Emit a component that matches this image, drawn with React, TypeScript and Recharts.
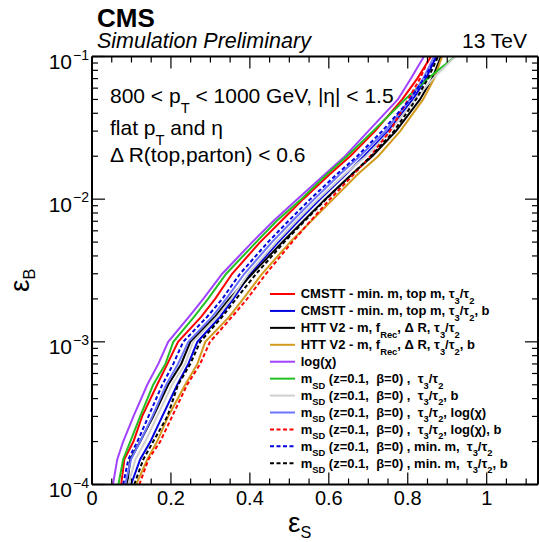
import React from 'react';
import { LineChart, Line, XAxis, YAxis, Legend } from 'recharts';

const FONT = '"Liberation Sans", Arial, Helvetica, sans-serif';

// background efficiency levels (y)
const effB = [1e-4, 1.5e-4, 2e-4, 3e-4, 5e-4, 7e-4, 1e-3, 1.5e-3, 2e-3, 3e-3, 5e-3, 7e-3, 1e-2, 1.5e-2, 2e-2, 3e-2, 5e-2, 7e-2, 1e-1];

// signal efficiency for each curve at the levels above
const cmsttS = [0.074, 0.082, 0.105, 0.127, 0.165, 0.191, 0.218, 0.277, 0.312, 0.355, 0.426, 0.479, 0.535, 0.603, 0.654, 0.717, 0.786, 0.824, 0.859];
const cmsttBS = [0.099, 0.122, 0.148, 0.178, 0.216, 0.244, 0.267, 0.325, 0.358, 0.401, 0.472, 0.522, 0.578, 0.644, 0.689, 0.750, 0.813, 0.846, 0.872];
const httS = [0.089, 0.097, 0.122, 0.155, 0.193, 0.226, 0.249, 0.312, 0.348, 0.406, 0.482, 0.535, 0.591, 0.659, 0.710, 0.770, 0.831, 0.862, 0.884];
const httBS = [0.112, 0.140, 0.165, 0.193, 0.236, 0.267, 0.287, 0.348, 0.383, 0.431, 0.502, 0.555, 0.611, 0.674, 0.725, 0.781, 0.839, 0.867, 0.887];
const logChiS = [0.053, 0.064, 0.079, 0.105, 0.140, 0.168, 0.193, 0.246, 0.282, 0.330, 0.406, 0.459, 0.520, 0.591, 0.641, 0.700, 0.775, 0.808, 0.841];
const msdTauS = [0.067, 0.079, 0.097, 0.122, 0.155, 0.186, 0.206, 0.259, 0.294, 0.340, 0.416, 0.467, 0.530, 0.596, 0.646, 0.712, 0.793, 0.851, 0.920];
const msdTauBS = [0.092, 0.110, 0.135, 0.165, 0.203, 0.236, 0.256, 0.317, 0.353, 0.396, 0.467, 0.517, 0.573, 0.641, 0.694, 0.755, 0.818, 0.864, 0.920];
const msdTauChiS = [0.084, 0.099, 0.122, 0.153, 0.188, 0.218, 0.244, 0.305, 0.340, 0.386, 0.456, 0.507, 0.563, 0.629, 0.679, 0.743, 0.806, 0.839, 0.867];
const msdTauChiBS = [0.120, 0.143, 0.173, 0.203, 0.241, 0.274, 0.299, 0.355, 0.393, 0.441, 0.507, 0.553, 0.603, 0.664, 0.705, 0.755, 0.801, 0.831, 0.856];
const msdMinS = [0.079, 0.092, 0.115, 0.143, 0.178, 0.206, 0.231, 0.292, 0.330, 0.375, 0.446, 0.497, 0.553, 0.621, 0.672, 0.735, 0.806, 0.841, 0.874];
const msdMinBS = [0.107, 0.130, 0.155, 0.191, 0.218, 0.249, 0.274, 0.330, 0.365, 0.416, 0.487, 0.538, 0.593, 0.659, 0.707, 0.765, 0.821, 0.851, 0.877];

const seriesLabels = [
  'CMSTT - min. m, top m, τ_{3}/τ_{2}',
  'CMSTT - min. m, top m, τ_{3}/τ_{2}, b',
  'HTT V2 - m, f_{Rec}, Δ R, τ_{3}/τ_{2}',
  'HTT V2 - m, f_{Rec}, Δ R, τ_{3}/τ_{2}, b',
  'log(χ)',
  'm_{SD} (z=0.1,  β=0) ,  τ_{3}/τ_{2}',
  'm_{SD} (z=0.1,  β=0) ,  τ_{3}/τ_{2}, b',
  'm_{SD} (z=0.1,  β=0) ,  τ_{3}/τ_{2}, log(χ)',
  'm_{SD} (z=0.1,  β=0) ,  τ_{3}/τ_{2}, log(χ), b',
  'm_{SD} (z=0.1,  β=0) , min. m,  τ_{3}/τ_{2}',
  'm_{SD} (z=0.1,  β=0) , min. m,  τ_{3}/τ_{2}, b',
];
const seriesValues = [cmsttS, cmsttBS, httS, httBS, logChiS, msdTauS, msdTauBS, msdTauChiS, msdTauChiBS, msdMinS, msdMinBS];
const seriesColors = ['#ff0000', '#0000e0', '#000000', '#d39b1e', '#a142ff', '#22c022', '#cfcfcf', '#6c74ff', '#ff0000', '#0000e0', '#000000'];
const seriesDashed = [false, false, false, false, false, false, false, false, true, true, true];

const xTicks = [0, 0.05, 0.1, 0.15, 0.2, 0.25, 0.3, 0.35, 0.4, 0.45, 0.5, 0.55, 0.6, 0.65, 0.7, 0.75, 0.8, 0.85, 0.9, 0.95, 1, 1.05, 1.1];
const xMajor = [0, 0.2, 0.4, 0.6, 0.8, 1];
const xMajorLabels = ['0', '0.2', '0.4', '0.6', '0.8', '1'];
const yTicks = [
  1e-4, 2e-4, 3e-4, 4e-4, 5e-4, 6e-4, 7e-4, 8e-4, 9e-4,
  1e-3, 2e-3, 3e-3, 4e-3, 5e-3, 6e-3, 7e-3, 8e-3, 9e-3,
  1e-2, 2e-2, 3e-2, 4e-2, 5e-2, 6e-2, 7e-2, 8e-2, 9e-2,
  1e-1,
];
const yMajor = [1e-4, 1e-3, 1e-2, 1e-1];
const yMajorExp = ['\u22124', '\u22123', '\u22122', '\u22121'];

const X_DOMAIN: [number, number] = [0, 1.13];
const Y_DOMAIN: [number, number] = [1e-4, 1e-1];

function rich(str: string, size: number, shift = 0.42, scale = 0.72) {
  const out: React.ReactNode[] = [];
  const re = /([_^])\{([^}]*)\}/g;
  let last = 0;
  let pending = 0;
  let k = 0;
  let m: RegExpExecArray | null;
  while ((m = re.exec(str)) !== null) {
    if (m.index > last) {
      out.push(<tspan key={k++} dy={pending || undefined}>{str.slice(last, m.index)}</tspan>);
      pending = 0;
    }
    const sh = (m[1] === '_' ? 1 : -1) * size * shift;
    out.push(<tspan key={k++} dy={sh + pending} fontSize={size * scale}>{m[2]}</tspan>);
    pending = -sh;
    last = re.lastIndex;
  }
  if (last < str.length) out.push(<tspan key={k++} dy={pending || undefined}>{str.slice(last)}</tspan>);
  return out;
}

const idxOf = (arr: number[], v: number) => arr.findIndex((t) => Math.abs(t - v) <= Math.abs(t) * 1e-6 + 1e-12);

const BottomTick = (p: any) => {
  const v = p.payload.value;
  const mi = idxOf(xMajor, v);
  const len = mi >= 0 ? 12 : 6;
  return (
    <g>
      <line x1={p.x} x2={p.x} y1={p.y} y2={p.y - len} stroke="#000" strokeWidth={1.2} />
      {mi >= 0 && (
        <text x={p.x} y={p.y + 20.5} textAnchor="middle" fontSize={20} fontFamily={FONT} fill="#000">
          {xMajorLabels[mi]}
        </text>
      )}
    </g>
  );
};

const TopTick = (p: any) => {
  const v = p.payload.value;
  const len = idxOf(xMajor, v) >= 0 ? 12 : 6;
  return <line x1={p.x} x2={p.x} y1={p.y} y2={p.y + len} stroke="#000" strokeWidth={1.2} />;
};

const LeftTick = (p: any) => {
  const v = p.payload.value;
  const mi = idxOf(yMajor, v);
  const len = mi >= 0 ? 13 : 6;
  return (
    <g>
      <line x1={p.x} x2={p.x + len} y1={p.y} y2={p.y} stroke="#000" strokeWidth={1.2} />
      {mi >= 0 && (
        <text x={p.x - 20} y={p.y + 12.5} textAnchor="end" fontSize={21} fontFamily={FONT} fill="#000">10</text>
      )}
      {mi >= 0 && (
        <text x={p.x - 19} y={p.y + 3} fontSize={14} fontFamily={FONT} fill="#000">
          {yMajorExp[mi]}
        </text>
      )}
    </g>
  );
};

const RightTick = (p: any) => {
  const v = p.payload.value;
  const len = idxOf(yMajor, v) >= 0 ? 13 : 6;
  return <line x1={p.x} x2={p.x - len} y1={p.y} y2={p.y} stroke="#000" strokeWidth={1.2} />;
};

const renderLegend = () => (
  <svg width={277} height={195} style={{ display: 'block', overflow: 'visible' }}>
    {seriesLabels.map((lab, i) => {
      const cy = 11 + i * 16.93;
      return (
        <g key={i}>
          <line x1={8} x2={33} y1={cy} y2={cy} stroke={seriesColors[i]} strokeWidth={2}
            strokeDasharray={seriesDashed[i] ? '4 2.5' : undefined} />
          <text x={38.7} y={cy + 4.4} fontSize={13} fontWeight="bold" fontFamily={FONT} fill="#000"
            style={{ whiteSpace: 'pre' }}>
            {rich(lab, 13)}
          </text>
        </g>
      );
    })}
  </svg>
);

export default function App() {
  return (
    <div style={{ position: 'absolute', left: 0, top: 0, width: 539, height: 542, background: '#fff' }}>
      <LineChart width={539} height={542} margin={{ top: 55.5, right: 0, bottom: 56.5, left: 91 }}>
        <XAxis xAxisId="b" dataKey="s" type="number" domain={X_DOMAIN} allowDataOverflow ticks={xTicks}
          interval={0} height={1} tickSize={0} tickMargin={0} tickLine={false} tick={BottomTick}
          axisLine={{ stroke: '#000', strokeWidth: 2 }} />
        <XAxis xAxisId="t" orientation="top" dataKey="s" type="number" domain={X_DOMAIN} allowDataOverflow
          ticks={xTicks} interval={0} height={1} tickSize={0} tickMargin={0} tickLine={false} tick={TopTick}
          axisLine={{ stroke: '#000', strokeWidth: 2 }} />
        <YAxis yAxisId="l" type="number" scale="log" domain={Y_DOMAIN} allowDataOverflow ticks={yTicks}
          interval={0} width={1} tickSize={0} tickMargin={0} tickLine={false} tick={LeftTick}
          axisLine={{ stroke: '#000', strokeWidth: 2 }} />
        <YAxis yAxisId="r" orientation="right" type="number" scale="log" domain={Y_DOMAIN} allowDataOverflow
          ticks={yTicks} interval={0} width={1} tickSize={0} tickMargin={0} tickLine={false} tick={RightTick}
          axisLine={{ stroke: '#000', strokeWidth: 2 }} />
        {seriesValues.map((vals, i) => (
          <Line key={i} xAxisId="b" yAxisId="l" name={seriesLabels[i]}
            data={effB.map((b, j) => ({ s: vals[j], b }))} dataKey="b" type="linear"
            stroke={seriesColors[i]} strokeWidth={2} strokeDasharray={seriesDashed[i] ? '4 2.5' : undefined}
            dot={false} activeDot={false} isAnimationActive={false} />
        ))}
        <Legend content={renderLegend} layout="vertical" align="center" verticalAlign="middle"
          wrapperStyle={{ left: 262, top: 283, width: 277, height: 195 }} />
      </LineChart>
      <svg width={539} height={542} style={{ position: 'absolute', left: 0, top: 0, pointerEvents: 'none' }}>
        <g fontFamily={FONT} fill="#000">
          <text x={97} y={27} fontSize={26} fontWeight="bold">CMS</text>
          <text x={97} y={48} fontSize={21.5} fontStyle="italic">Simulation Preliminary</text>
          <text x={527} y={48} fontSize={21} textAnchor="end">13 TeV</text>
          <text x={110} y={103} fontSize={21} style={{ whiteSpace: 'pre' }}>{rich('800 < p_{T} < 1000 GeV, |η| < 1.5', 21, 0.48, 0.7)}</text>
          <text x={110} y={135} fontSize={21} style={{ whiteSpace: 'pre' }}>{rich('flat p_{T} and η', 21, 0.48, 0.7)}</text>
          <text x={110} y={162} fontSize={21} style={{ whiteSpace: 'pre' }}>{rich('Δ R(top,parton) < 0.6', 21)}</text>
          <text x={288} y={532} fontSize={28}>{rich('ε_{S}', 28, 0.22, 0.58)}</text>
          <g transform="translate(29 292) rotate(-90)">
            <text x={0} y={0} fontSize={28}>{rich('ε_{B}', 28, 0.22, 0.58)}</text>
          </g>
        </g>
      </svg>
    </div>
  );
}
